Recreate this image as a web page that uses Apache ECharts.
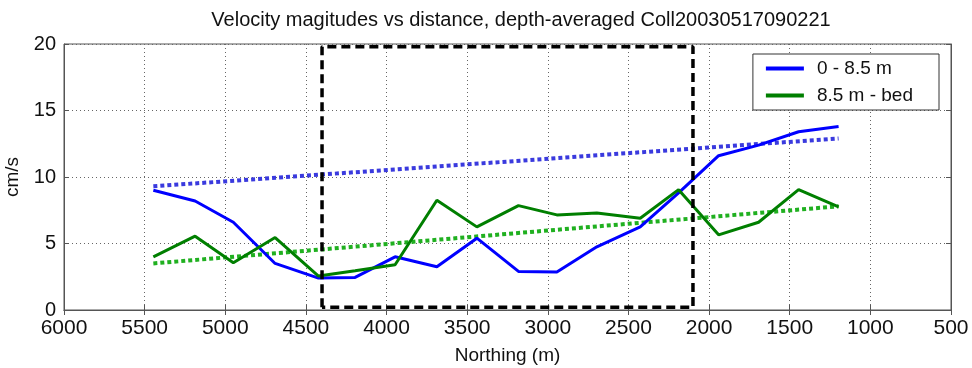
<!DOCTYPE html>
<html>
<head>
<meta charset="utf-8">
<script src="https://cdn.jsdelivr.net/npm/echarts@6/dist/echarts.min.js"></script>
<style>
html,body{margin:0;padding:0;background:#fff;}
#main{width:972px;height:368px;}
</style>
</head>
<body>
<div id="main"></div>
<script>
// Northing (m) of each sample
var northing = [5446, 5187, 4950, 4691, 4422, 4195, 3947, 3688, 3440, 3182, 2944, 2696, 2427, 2189, 1941, 1693, 1445, 1197];
// 0 - 8.5 m
var upper = [9.0, 8.2, 6.6, 3.5, 2.4, 2.45, 4.0, 3.25, 5.4, 2.9, 2.85, 4.75, 6.25, 8.8, 11.6, 12.4, 13.4, 13.8];
// 8.5 m - bed
var lower = [4.0, 5.55, 3.55, 5.45, 2.55, 2.95, 3.4, 8.25, 6.25, 7.85, 7.15, 7.3, 6.9, 9.05, 5.65, 6.6, 9.05, 7.75];
// linear trends (end points)
var trendX = [5446, 1197];
var upperTrend = [9.3, 12.9];
var lowerTrend = [3.5, 7.8];
// dashed box
var boxX = [4400, 2100];
var boxY = [0.2, 19.8];

function pairs(xs, ys){
	var out = [];
	for (var i = 0; i < xs.length; i++) out.push([xs[i], ys[i]]);
	return out;
}

var MyEchart = echarts.init(document.getElementById('main'));
var font = 'Liberation Sans, Arial, sans-serif';
var option = {
	animation: false,
	backgroundColor: '#fff',
	title: {
		text: 'Velocity magitudes vs distance, depth-averaged Coll20030517090221',
		left: 516, top: 5, textAlign: 'center',
		textStyle: {fontFamily: font, fontSize: 20, fontWeight: 'normal', color: '#111'}
	},
	grid: {left: 64, right: 21, top: 44, bottom: 58, outerBoundsMode: 'none', containLabel: false,
		show: true, borderColor: '#555', borderWidth: 1},
	legend: {
		data: ['0 - 8.5 m', '8.5 m - bed'],
		orient: 'vertical',
		right: 33, top: 54,
		padding: [5, 26, 5, 13],
		itemGap: 8,
		icon: 'rect',
		itemWidth: 38, itemHeight: 4,
		backgroundColor: '#fff',
		borderColor: '#333', borderWidth: 1,
		textStyle: {fontFamily: font, fontSize: 19, color: '#111', padding: [0, 0, 0, 8]}
	},
	xAxis: [
		{
			type: 'value', min: 500, max: 6000, interval: 500, inverse: true,
			name: 'Northing (m)', nameLocation: 'middle', nameGap: 36,
			nameTextStyle: {fontFamily: font, fontSize: 19, color: '#111'},
			axisLine: {show: true, lineStyle: {color: '#555'}},
			axisTick: {show: true, inside: true, length: 5, lineStyle: {color: '#555'}},
			axisLabel: {fontFamily: font, fontSize: 21, color: '#111', margin: 8, formatter: function (v) { return String(v); }},
			splitLine: {show: true, lineStyle: {color: '#666', type: [1, 3], width: 1}}
		},
		{
			type: 'value', min: 500, max: 6000, interval: 500, inverse: true, position: 'top',
			axisLine: {show: true, lineStyle: {color: '#555'}},
			axisTick: {show: true, inside: true, length: 5, lineStyle: {color: '#555'}},
			axisLabel: {show: false}, splitLine: {show: false}
		}
	],
	yAxis: [
		{
			type: 'value', min: 0, max: 20, interval: 5,
			name: 'cm/s', nameLocation: 'middle', nameGap: 42, nameRotate: 90,
			nameTextStyle: {fontFamily: font, fontSize: 19, color: '#111'},
			axisLine: {show: true, lineStyle: {color: '#555'}},
			axisTick: {show: true, inside: true, length: 5, lineStyle: {color: '#555'}},
			axisLabel: {fontFamily: font, fontSize: 20, color: '#111', margin: 8},
			splitLine: {show: true, lineStyle: {color: '#666', type: [1, 3], width: 1}}
		},
		{
			type: 'value', min: 0, max: 20, interval: 5, position: 'right',
			axisLine: {show: true, lineStyle: {color: '#555'}},
			axisTick: {show: true, inside: true, length: 5, lineStyle: {color: '#555'}},
			axisLabel: {show: false}, splitLine: {show: false}
		}
	],
	series: [
		{
			name: 'upper trend', type: 'line', symbol: 'none', silent: true,
			lineStyle: {color: '#3a3ade', width: 4, type: [4, 3]},
			data: pairs(trendX, upperTrend)
		},
		{
			name: 'lower trend', type: 'line', symbol: 'none', silent: true,
			lineStyle: {color: '#20b020', width: 4, type: [4, 3]},
			data: pairs(trendX, lowerTrend)
		},
		{
			name: '0 - 8.5 m', type: 'line', symbol: 'none',
			itemStyle: {color: '#0000ff'},
			lineStyle: {color: '#0000ff', width: 3},
			data: pairs(northing, upper)
		},
		{
			name: '8.5 m - bed', type: 'line', symbol: 'none',
			itemStyle: {color: '#007f00'},
			lineStyle: {color: '#007f00', width: 3},
			data: pairs(northing, lower)
		},
		{
			name: 'box', type: 'line', symbol: 'none', silent: true,
			lineStyle: {color: '#000', width: 3.5, type: [9, 5]},
			data: [[boxX[0], boxY[0]], [boxX[0], boxY[1]], [boxX[1], boxY[1]], [boxX[1], boxY[0]], [boxX[0], boxY[0]]]
		}
	]
};
MyEchart.setOption(option);
</script>
</body>
</html>
